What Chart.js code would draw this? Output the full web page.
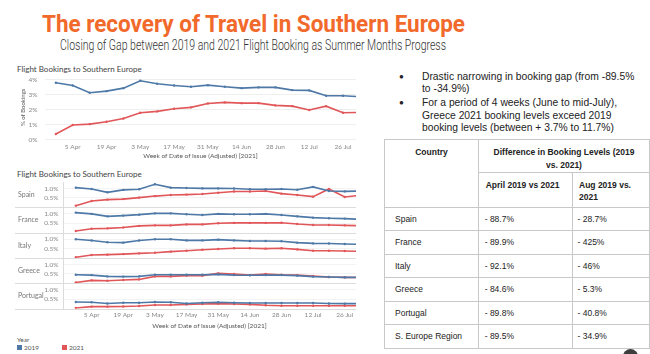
<!DOCTYPE html>
<html><head><meta charset="utf-8">
<script src="https://cdn.jsdelivr.net/npm/chart.js@4.4.1/dist/chart.umd.min.js"></script>
<style>
html,body{margin:0;padding:0;background:#fff;}
body{width:650px;height:354px;overflow:hidden;position:relative;font-family:"Liberation Sans",Arial,sans-serif;}
.abs{position:absolute;white-space:nowrap;}
#title{left:42px;top:9.7px;font-weight:bold;font-size:23.5px;line-height:28px;font-family:Roboto,"Liberation Sans",Arial,sans-serif;color:#f26a2b;transform-origin:0 0;}
#subtitle{left:60px;top:36.5px;font-weight:300;font-size:14px;line-height:16px;font-family:Roboto,"Liberation Sans",Arial,sans-serif;color:#333;transform-origin:0 0;}
.ctitle{left:17px;font-family:Lato,"Open Sans",sans-serif;font-size:8px;line-height:10px;color:#444;}
#bullets{left:399px;top:70.5px;font-size:10.3px;line-height:12.5px;color:#222;}
#bullets .item{position:relative;padding-left:23px;margin-bottom:1.6px;}
#bullets .dot{position:absolute;left:0;top:0;font-size:8px;}
#tbl{position:absolute;left:384px;top:139px;border-collapse:collapse;font-size:8.5px;color:#222;table-layout:fixed;}
#tbl td,#tbl th{border:1px solid #c8c8c8;padding:0;}
#tbl th{font-weight:bold;vertical-align:top;}
#tbl td{vertical-align:middle;}
.legend{font-family:Lato,"Open Sans",sans-serif;font-size:6.5px;color:#555;}
.sw{position:absolute;width:5px;height:5px;}
canvas{position:absolute;left:0;}
</style>
</head>
<body>
<div id="title" class="abs">The recovery of Travel in Southern Europe</div>
<div id="subtitle" class="abs">Closing of Gap between 2019 and 2021 Flight Booking as Summer Months Progress</div>

<div class="abs ctitle" style="top:64.3px">Flight Bookings to Southern Europe</div>
<canvas id="top" width="360" height="100" style="top:60px"></canvas>

<div class="abs ctitle" style="top:169.3px">Flight Bookings to Southern Europe</div>
<canvas id="bottom" width="360" height="170" style="top:165px"></canvas>

<div class="abs legend" style="left:17px;top:335.5px">Year</div>
<div class="sw" style="left:17px;top:345px;background:#4e79a7"></div>
<div class="abs legend" style="left:24px;top:343.5px">2019</div>
<div class="sw" style="left:62px;top:345px;background:#e15759"></div>
<div class="abs legend" style="left:69px;top:343.5px">2021</div>

<div id="bullets" class="abs">
  <div class="item"><span class="dot">●</span>Drastic narrowing in booking gap (from -89.5%<br>to -34.9%)</div>
  <div class="item"><span class="dot">●</span>For a period of 4 weeks (June to mid-July),<br>Greece 2021 booking levels exceed 2019<br>booking levels (between + 3.7% to 11.7%)</div>
</div>

<table id="tbl"></table>
<div style="position:absolute;left:623px;top:349px;width:15px;height:15px;border-radius:50%;background:#3d3d3d"></div>

<script>
// ---------- DATA ----------
const weeks = ['29 Mar','5 Apr','12 Apr','19 Apr','26 Apr','3 May','10 May','17 May','24 May','31 May','7 Jun','14 Jun','21 Jun','28 Jun','5 Jul','12 Jul','19 Jul','26 Jul','2 Aug'];
const tickWeeks = ['5 Apr','19 Apr','3 May','17 May','31 May','14 Jun','28 Jun','12 Jul','26 Jul'];
const yearLabels = ['2019','2021'];

const region2019 = [3.80,3.62,3.13,3.24,3.44,3.93,3.73,3.62,3.53,3.64,3.53,3.44,3.49,3.49,3.31,3.29,2.93,2.93,2.87];
const region2021 = [0.38,0.98,1.04,1.20,1.42,1.80,1.89,2.07,2.16,2.42,2.49,2.44,2.44,2.29,2.24,1.98,2.24,1.80,1.82];
const regionTicks = [0,1,2,3,4];

const countries = ['Spain','France','Italy','Greece','Portugal'];
const spain2019    = [1.05,0.98,0.80,0.93,0.96,1.23,1.05,1.03,1.01,1.01,1.00,0.96,0.96,0.98,0.94,1.09,0.87,0.85,0.87];
const spain2021    = [0.09,0.34,0.41,0.44,0.52,0.60,0.66,0.68,0.71,0.78,0.84,0.84,0.87,0.73,0.66,0.57,0.98,0.55,0.64];
const france2019   = [1.07,1.00,0.87,0.91,0.96,1.03,1.03,0.98,0.94,1.00,0.98,0.98,1.00,0.94,0.87,0.80,0.77,0.75,0.71];
const france2021   = [0.09,0.21,0.23,0.28,0.36,0.39,0.39,0.44,0.44,0.50,0.52,0.52,0.52,0.53,0.46,0.41,0.41,0.39,0.37];
const italy2019    = [1.00,0.93,0.84,0.82,0.93,1.00,1.00,0.94,0.94,0.98,0.94,0.91,0.91,0.89,0.82,0.78,0.77,0.75,0.73];
const italy2021    = [0.04,0.16,0.18,0.21,0.25,0.28,0.34,0.39,0.44,0.48,0.52,0.52,0.50,0.52,0.46,0.39,0.39,0.37,0.36];
const greece2019   = [0.46,0.44,0.37,0.36,0.37,0.46,0.46,0.46,0.46,0.48,0.44,0.43,0.44,0.44,0.41,0.36,0.34,0.32,0.32];
const greece2021   = [0.05,0.16,0.14,0.18,0.21,0.37,0.37,0.41,0.41,0.53,0.50,0.44,0.50,0.46,0.44,0.39,0.34,0.32,0.31];
const portugal2019 = [0.36,0.34,0.28,0.32,0.32,0.36,0.34,0.28,0.32,0.34,0.32,0.30,0.30,0.30,0.30,0.30,0.28,0.27,0.27];
const portugal2021 = [0.04,0.11,0.11,0.12,0.14,0.20,0.20,0.23,0.25,0.27,0.25,0.23,0.18,0.16,0.16,0.16,0.16,0.16,0.16];
const countryTicks = [0.5,1.0];

const tableCountries = ['Spain','France','Italy','Greece','Portugal','S. Europe Region'];
const aprilDiff = ['- 88.7%','- 89.9%','- 92.1%','- 84.6%','- 89.8%','- 89.5%'];
const augDiff   = ['- 28.7%','- 425%','- 46%','- 5.3%','- 40.8%','- 34.9%'];

// ---------- STYLE ----------
const C2019 = '#4e79a7', C2021 = '#e15759';
Chart.defaults.font.family = 'Lato, "Open Sans", sans-serif';
Chart.defaults.animation = false;

const tickIdx = tickWeeks.map(w => weeks.indexOf(w));
const toXY = arr => arr.map((v, i) => ({x: i, y: v}));
function line(label, data, color, yID) {
  const d = {label, data: toXY(data), borderColor: color, backgroundColor: color,
    borderWidth: 1.6, pointRadius: 1.2, pointBorderWidth: 0, pointBackgroundColor: color, tension: 0};
  if (yID) d.yAxisID = yID;
  return d;
}
function xScale(min, max, height, tickPad, titlePadBottom) {
  return {
    type: 'linear', position: 'bottom', min, max,
    afterBuildTicks: s => { s.ticks = tickIdx.map(v => ({value: v})); },
    afterFit: s => { s.height = height; },
    ticks: {autoSkip: false, maxRotation: 0, padding: tickPad, color: '#888', font: {size: 6.5},
      callback: v => weeks[v]},
    grid: {display: false, drawTicks: false}, border: {display: false},
    title: {display: true, text: 'Week of Date of Issue (Adjusted) [2021]', color: '#555',
      font: {size: 6.5}, padding: {top: 0, bottom: titlePadBottom}}
  };
}

// ---------- TOP CHART ----------
new Chart(document.getElementById('top'), {
  type: 'line',
  data: {datasets: [line(yearLabels[0], region2019, C2019), line(yearLabels[1], region2021, C2021)]},
  options: {
    responsive: false,
    layout: {padding: {top: 14.5, left: 0, right: 0, bottom: 0}},
    plugins: {legend: {display: false}, tooltip: {enabled: false}},
    scales: {
      x: xScale(-0.643, 17.77, 19.8, 2.6, 0.1),
      y: {
        min: -0.03, max: 4.35,
        afterBuildTicks: s => { s.ticks = regionTicks.map(v => ({value: v})); },
        afterFit: s => { s.width = 45; },
        ticks: {padding: 7.5, color: '#888', font: {size: 6.5}, callback: v => v + '%'},
        grid: {color: '#efefef', drawTicks: false}, border: {display: false},
        title: {display: true, text: '% of Bookings', color: '#555', font: {size: 6}, padding: {top: 19.1, bottom: 0}}
      }
    }
  }
});

// ---------- BOTTOM CHART ----------
const countrySeries = [[spain2019, spain2021],[france2019, france2021],[italy2019, italy2021],[greece2019, greece2021],[portugal2019, portugal2021]];
const bScales = {x: xScale(-0.81, 17.71, 26.3, 2.4, 4.8)};
const bData = [];
countries.forEach((c, k) => {
  const id = 'y' + k;
  bScales[id] = {
    type: 'linear', position: 'left', stack: 'rows', stackWeight: 1, weight: countries.length - k,
    min: 0, max: 1.35,
    afterBuildTicks: s => { s.ticks = countryTicks.map(v => ({value: v})); },
    afterFit: s => { s.width = 63; },
    ticks: {padding: 4.5, color: '#888', font: {size: 6.5}, callback: v => v.toFixed(1) + '%'},
    grid: {color: '#f3f3f3', drawTicks: false},
    border: {color: '#dcdcdc'}
  };
  bData.push(line(c + ' ' + yearLabels[0], countrySeries[k][0], C2019, id));
  bData.push(line(c + ' ' + yearLabels[1], countrySeries[k][1], C2021, id));
});
const rowPlugin = {
  id: 'rows',
  beforeDatasetsDraw(chart) {
    const ctx = chart.ctx, area = chart.chartArea;
    ctx.save();
    ctx.strokeStyle = '#dcdcdc'; ctx.lineWidth = 1;
    countries.forEach((c, k) => {
      const s = chart.scales['y' + k];
      const yy = Math.round(s.bottom) + 0.5;
      ctx.beginPath(); ctx.moveTo(15, yy); ctx.lineTo(area.right, yy); ctx.stroke();
      ctx.fillStyle = '#777'; ctx.font = '7px Lato, "Open Sans", sans-serif';
      ctx.textBaseline = 'middle'; ctx.textAlign = 'left';
      ctx.fillText(c, 18, (s.top + s.bottom) / 2);
    });
    ctx.restore();
  }
};
new Chart(document.getElementById('bottom'), {
  type: 'line',
  data: {datasets: bData},
  options: {
    responsive: false,
    layout: {padding: {top: 17, left: 0, right: 0, bottom: 0}},
    plugins: {legend: {display: false}, tooltip: {enabled: false}},
    scales: bScales
  },
  plugins: [rowPlugin]
});

// ---------- TABLE ----------
(function buildTable() {
  const t = document.getElementById('tbl');
  let h = '<colgroup><col style="width:94px"><col style="width:93.5px"><col style="width:77.5px"></colgroup>';
  h += '<tr style="height:32.7px"><th rowspan="2" style="text-align:center;padding-top:5.5px;line-height:13px">Country</th>' +
       '<th colspan="2" style="text-align:center;padding-top:5.5px;line-height:13px">Difference in Booking Levels (2019<br>vs. 2021)</th></tr>';
  h += '<tr style="height:35px"><th style="text-align:left;padding:7.5px 0 0 6.7px;line-height:11.7px">April 2019 vs 2021</th>' +
       '<th style="text-align:left;padding:7.5px 0 0 6.5px;line-height:11.7px">Aug 2019 vs.<br>2021</th></tr>';
  tableCountries.forEach((c, i) => {
    h += '<tr style="height:23.5px"><td style="padding-left:10px">' + c + '</td><td style="padding-left:5.7px">' +
         aprilDiff[i] + '</td><td style="padding-left:5px">' + augDiff[i] + '</td></tr>';
  });
  t.innerHTML = h;
})();

// ---------- FIT HEADINGS ----------
function fit(id, w) {
  const el = document.getElementById(id);
  const r = w / el.getBoundingClientRect().width;
  el.style.transform = 'scaleX(' + r + ')';
}
fit('title', 423);
fit('subtitle', 386);
</script>
</body></html>
